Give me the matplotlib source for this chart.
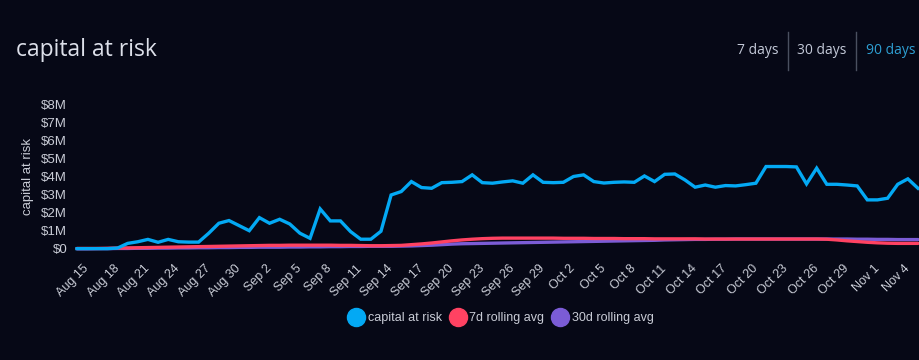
import matplotlib
matplotlib.use("Agg")
import matplotlib.pyplot as plt
from matplotlib.lines import Line2D
import pandas as pd

# ---- data ----
dates = pd.date_range("2024-08-14", periods=84, freq="D")
capital_at_risk = [0.02, 0.02, 0.02, 0.02, 0.05, 0.31, 0.40, 0.53, 0.37, 0.53,
                   0.40, 0.38, 0.38, 0.87, 1.42, 1.57, 1.29, 1.01, 1.73, 1.42,
                   1.64, 1.38, 0.87, 0.59, 2.21, 1.55, 1.55, 0.96, 0.54, 0.54,
                   0.98, 2.98, 3.17, 3.72, 3.39, 3.35, 3.66, 3.68, 3.72, 4.09,
                   3.66, 3.63, 3.70, 3.76, 3.63, 4.09, 3.68, 3.66, 3.68, 4.00,
                   4.09, 3.72, 3.64, 3.68, 3.70, 3.68, 4.03, 3.72, 4.12, 4.14,
                   3.81, 3.41, 3.53, 3.41, 3.50, 3.48, 3.55, 3.63, 4.55, 4.55,
                   4.55, 4.53, 3.59, 4.46, 3.57, 3.57, 3.53, 3.48, 2.71, 2.71,
                   2.80, 3.57, 3.87, 3.35]
rolling_7d = [0.03, 0.03, 0.03, 0.04, 0.05, 0.06, 0.07, 0.08, 0.09, 0.10,
              0.11, 0.12, 0.13, 0.14, 0.15, 0.16, 0.17, 0.18, 0.19, 0.20,
              0.20, 0.21, 0.21, 0.21, 0.21, 0.21, 0.20, 0.20, 0.19, 0.18,
              0.18, 0.19, 0.20, 0.24, 0.28, 0.33, 0.39, 0.45, 0.50, 0.54,
              0.57, 0.59, 0.60, 0.60, 0.60, 0.60, 0.60, 0.60, 0.59, 0.59,
              0.59, 0.58, 0.58, 0.58, 0.57, 0.57, 0.57, 0.56, 0.56, 0.56,
              0.56, 0.56, 0.55, 0.55, 0.55, 0.55, 0.55, 0.55, 0.55, 0.55,
              0.55, 0.55, 0.55, 0.55, 0.54, 0.50, 0.45, 0.41, 0.37, 0.34,
              0.32, 0.31, 0.31, 0.31]
rolling_30d = [0.01, 0.01, 0.02, 0.02, 0.03, 0.03, 0.04, 0.04, 0.05, 0.05,
               0.06, 0.06, 0.07, 0.07, 0.08, 0.08, 0.09, 0.09, 0.10, 0.10,
               0.10, 0.11, 0.11, 0.12, 0.12, 0.13, 0.13, 0.14, 0.14, 0.15,
               0.15, 0.15, 0.16, 0.17, 0.19, 0.21, 0.24, 0.27, 0.29, 0.30,
               0.31, 0.32, 0.33, 0.34, 0.35, 0.36, 0.37, 0.38, 0.39, 0.40,
               0.41, 0.42, 0.43, 0.44, 0.45, 0.46, 0.47, 0.48, 0.50, 0.51,
               0.52, 0.53, 0.53, 0.54, 0.54, 0.55, 0.55, 0.55, 0.55, 0.55,
               0.55, 0.55, 0.55, 0.55, 0.55, 0.55, 0.55, 0.54, 0.54, 0.53,
               0.53, 0.52, 0.52, 0.52]
series_names = ["capital at risk", "7d rolling avg", "30d rolling avg"]
y_ticks = [0, 1, 2, 3, 4, 5, 6, 7, 8]
y_tick_labels = ["$0", "$1M", "$2M", "$3M", "$4M", "$5M", "$6M", "$7M", "$8M"]
range_buttons = ["7 days", "30 days", "90 days"]

# ---- style ----
BG = "#060816"
TXT = "#c9ccd6"
BLUE = "#03a9f4"
RED = "#ff4262"
PURPLE = "#7b5cd6"

W, H = 920, 360
fig = plt.figure(figsize=(W / 100, H / 100), dpi=100, facecolor=BG)

def fx(px):
    return px / W

def fy(py):
    return 1 - py / H

ax = fig.add_axes([fx(77), fy(249), fx(918) - fx(77), fy(104) - fy(249)])
ax.set_facecolor(BG)
x = list(range(len(dates)))
ax.plot(x, rolling_30d, color=PURPLE, lw=2.4, clip_on=False, zorder=2, solid_capstyle="round")
ax.plot(x, rolling_7d, color=RED, lw=2.4, clip_on=False, zorder=3, solid_capstyle="round")
ax.plot(x, capital_at_risk, color=BLUE, lw=2.4, clip_on=False, zorder=4, solid_joinstyle="miter")
ax.set_xlim(0, len(dates) - 1)
ax.set_ylim(0, 8)
for s in ax.spines.values():
    s.set_visible(False)

ax.set_yticks(y_ticks)
ax.set_yticklabels(y_tick_labels, fontsize=9.5, color=TXT, family="Liberation Sans")
tick_idx = list(range(1, len(dates), 3))
ax.set_xticks(tick_idx)
ax.set_xticklabels([f"{dates[i]:%b} {dates[i].day}" for i in tick_idx],
                   rotation=45, ha="right", va="center", rotation_mode="anchor",
                   fontsize=9, color=TXT, family="Liberation Sans")
ax.tick_params(axis="both", length=0)
ax.tick_params(axis="x", pad=13)
ax.tick_params(axis="y", pad=7)
ax.set_ylabel("capital at risk", fontsize=9.5, color=TXT, family="Liberation Sans")
ax.yaxis.set_label_coords(fx(34 - 77) / (fx(918) - fx(77)), 0.5)

# title
fig.text(fx(16), fy(50), "capital at risk", fontsize=16.5, color="#dde0ea",
         family="Open Sans", va="center", ha="left")

# range buttons
btn_x = [758, 822, 891]
btn_colors = ["#c3c9d8", "#c3c9d8", "#2e9fd3"]
for lbl, bx, c in zip(range_buttons, btn_x, btn_colors):
    fig.text(fx(bx), fy(50), lbl, fontsize=10, color=c, family="Open Sans",
             ha="center", va="center")
for dx in [788, 856]:
    fig.add_artist(Line2D([fx(dx), fx(dx)], [fy(32), fy(70)], color="#4a5060", lw=1))

# legend
handles = [Line2D([], [], marker="o", ls="none", markersize=13, color=c)
           for c in [BLUE, RED, PURPLE]]
leg = fig.legend(handles, series_names, loc="center", bbox_to_anchor=(fx(500), fy(318)),
                 ncol=3, frameon=False, handletextpad=0.1,
                 columnspacing=0.5, handlelength=1.6,
                 prop={"family": "Liberation Sans", "size": 9})
for t in leg.get_texts():
    t.set_color(TXT)

fig.savefig("out.png", dpi=100, facecolor=BG)
